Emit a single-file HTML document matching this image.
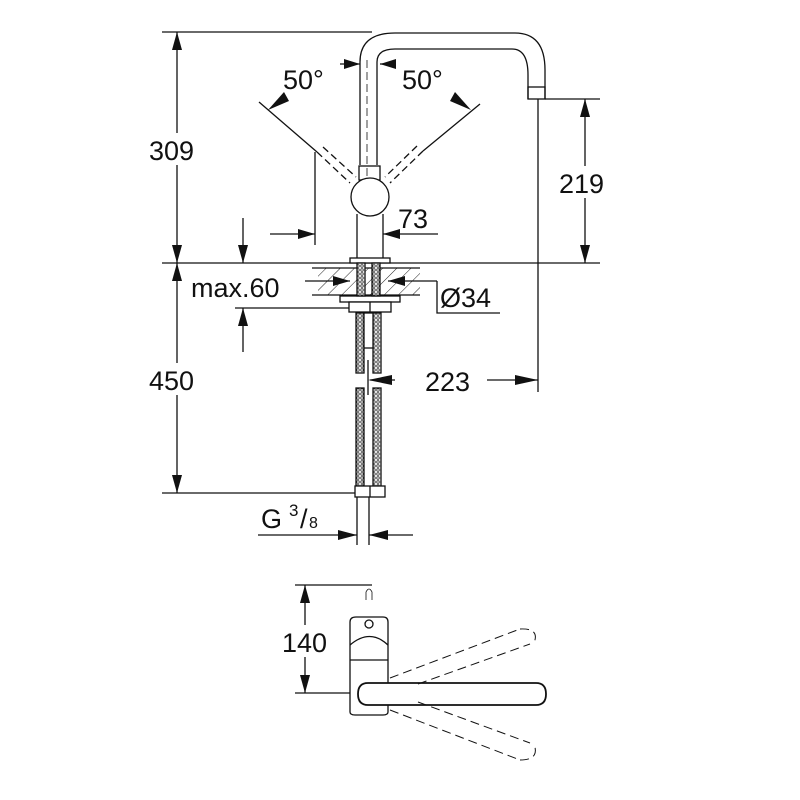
<!DOCTYPE html>
<html><head><meta charset="utf-8"><style>
html,body{margin:0;padding:0;background:#fff;}
svg{display:block;}
text{font-family:"Liberation Sans",sans-serif;fill:#111;}
</style></head><body>
<svg width="800" height="800" viewBox="0 0 800 800" xmlns="http://www.w3.org/2000/svg">
<defs>
<pattern id="hatch" width="10" height="10" patternUnits="userSpaceOnUse" patternTransform="rotate(45)">
<line x1="0" y1="0" x2="0" y2="10" stroke="#222" stroke-width="1"/>
</pattern>
<pattern id="braid" width="4" height="4" patternUnits="userSpaceOnUse">
<rect width="4" height="4" fill="#fff"/><circle cx="2" cy="2" r="1.3" fill="none" stroke="#333" stroke-width="0.8"/>
</pattern>
</defs>
<g stroke="#111" stroke-width="1.3" fill="none">
<line x1="162" y1="32" x2="372" y2="32"/>
<line x1="162" y1="263" x2="600" y2="263"/>
<line x1="545" y1="99" x2="600" y2="99"/>
<line x1="538" y1="99" x2="538" y2="392"/>
<line x1="162" y1="493" x2="355" y2="493"/>
<line x1="235" y1="308" x2="352" y2="308"/>
<line x1="177" y1="32" x2="177" y2="263"/>
<line x1="585" y1="99" x2="585" y2="263"/>
<line x1="177" y1="263" x2="177" y2="493"/>
<path d="M360 165 V62 Q360 33 395 33 H515 Q545 33 545 70 V99"/>
<path d="M377 165 V62 Q377 49 395 49 H512 Q528 49 528 75 V99"/>
<rect x="528" y="87" width="17" height="12"/>
<line x1="367" y1="60" x2="367" y2="178" stroke-dasharray="8,4" stroke-width="0.8"/>
<rect x="359" y="166" width="21" height="14"/>
<circle cx="370" cy="197" r="19" fill="#fff"/>
<line x1="357" y1="214" x2="357" y2="263"/>
<line x1="383" y1="214" x2="383" y2="263"/>
<line x1="259" y1="102" x2="317" y2="152"/>
<line x1="317" y1="152" x2="350" y2="183" stroke-dasharray="7,4"/>
<line x1="323" y1="147" x2="356" y2="177" stroke-dasharray="7,4"/>
<line x1="480" y1="104" x2="423" y2="151"/>
<line x1="423" y1="151" x2="390" y2="183" stroke-dasharray="7,4"/>
<line x1="417" y1="146" x2="385" y2="177" stroke-dasharray="7,4"/>
<line x1="315" y1="152" x2="315" y2="245"/>
<line x1="340" y1="64" x2="360" y2="64"/>
<line x1="380" y1="64" x2="393" y2="64"/>
<line x1="270" y1="234" x2="315" y2="234"/>
<line x1="383" y1="234" x2="438" y2="234"/>
<line x1="243" y1="218" x2="243" y2="263"/>
<line x1="243" y1="308" x2="243" y2="352"/>
<rect x="318" y="268" width="102" height="27" fill="url(#hatch)" stroke="none"/>
<line x1="312" y1="268" x2="420" y2="268"/>
<line x1="312" y1="295" x2="420" y2="295"/>
<rect x="350" y="258" width="40" height="5" fill="#fff"/>
<rect x="340" y="296" width="60" height="6" fill="#fff"/>
<rect x="349" y="302" width="42" height="10" fill="#fff"/>
<line x1="370" y1="302" x2="370" y2="312"/>
<line x1="305" y1="281" x2="350" y2="281"/>
<line x1="388" y1="281" x2="437" y2="281"/>
<polyline points="437,281 437,313 500,313"/>
<rect x="357" y="263" width="8" height="33" fill="url(#braid)"/>
<rect x="372" y="263" width="8" height="33" fill="url(#braid)"/>
<rect x="356" y="313" width="8" height="60" fill="url(#braid)"/>
<rect x="373" y="313" width="8" height="60" fill="url(#braid)"/>
<rect x="364" y="313" width="9" height="35" fill="#fff"/>
<rect x="356" y="388" width="8" height="100" fill="url(#braid)"/>
<rect x="373" y="388" width="8" height="100" fill="url(#braid)"/>
<rect x="355" y="486" width="30" height="11" fill="#fff"/>
<line x1="370" y1="486" x2="370" y2="497"/>
<line x1="368" y1="360" x2="368" y2="395"/>
<line x1="370" y1="380" x2="395" y2="380"/>
<line x1="487" y1="380" x2="538" y2="380"/>
<line x1="357" y1="497" x2="357" y2="545"/>
<line x1="369" y1="497" x2="369" y2="545"/>
<line x1="258" y1="535" x2="357" y2="535"/>
<line x1="369" y1="535" x2="413" y2="535"/>
<line x1="295" y1="585" x2="372" y2="585"/>
<line x1="295" y1="693" x2="350" y2="693"/>
<line x1="305" y1="585" x2="305" y2="693"/>
<path d="M350 712 V622 Q350 617 356 617 H383 Q388 617 388 622 V712 Q388 715 383 715 H355 Q350 715 350 712 Z"/>
<path d="M350 645 Q370 628 388 645"/>
<line x1="350" y1="660" x2="388" y2="660"/>
<circle cx="369" cy="624" r="4"/>
<path d="M366 600 V592 Q369 586 372 592 V600" stroke-width="0.8"/>
<path d="M368 683 H536 Q546 683 546 694 Q546 705 536 705 H368 Q358 705 358 694 Q358 683 368 683 Z" fill="#fff" stroke-width="1.8"/>
<g stroke-dasharray="9,5" stroke-width="1">
<line x1="390" y1="678" x2="520" y2="629"/>
<line x1="418" y1="684" x2="530" y2="644"/>
<path d="M520 629 Q540 628 534 643"/>
<line x1="390" y1="710" x2="520" y2="760"/>
<line x1="418" y1="702" x2="530" y2="743"/>
<path d="M520 760 Q540 760 534 744"/>
</g>
</g>
<g fill="#111" stroke="none">
<polygon points="177,32 172,50 182,50"/>
<polygon points="177,263 172,245 182,245"/>
<polygon points="177,263 172,281 182,281"/>
<polygon points="177,493 172,475 182,475"/>
<polygon points="585,99 580,117 590,117"/>
<polygon points="585,263 580,245 590,245"/>
<polygon points="243,263 238,245 248,245"/>
<polygon points="243,308 238,326 248,326"/>
<polygon points="360,64 344,59 344,69"/>
<polygon points="380,64 396,59 396,69"/>
<polygon points="315,234 298,229 298,239"/>
<polygon points="383,234 400,229 400,239"/>
<polygon points="350,281 333,276 333,286"/>
<polygon points="388,281 405,276 405,286"/>
<polygon points="368,380 392,375 392,385"/>
<polygon points="538,380 515,375 515,385"/>
<polygon points="357,535 338,530 338,540"/>
<polygon points="369,535 388,530 388,540"/>
<polygon points="305,585 300,603 310,603"/>
<polygon points="305,693 300,675 310,675"/>
<polygon points="268,110 284,92 289,101"/>
<polygon points="471,110 455,92 450,101"/>
</g>
<g fill="#fff">
<rect x="148" y="133" width="58" height="32"/>
<rect x="558" y="166" width="58" height="32"/>
<rect x="148" y="363" width="58" height="32"/>
<rect x="282" y="625" width="48" height="32"/>
</g>
<g font-size="27">
<text x="149" y="160">309</text>
<text x="559" y="193">219</text>
<text x="149" y="390">450</text>
<text x="398" y="228">73</text>
<text x="191" y="297">max.60</text>
<text x="440" y="307">Ø34</text>
<text x="425" y="391">223</text>
<text x="282" y="652">140</text>
<text x="283" y="89">50°</text>
<text x="402" y="89">50°</text>
<text x="261" y="528">G</text>
<text x="289" y="516" font-size="17">3</text>
<text x="300" y="528">/</text>
<text x="309" y="528" font-size="16">8</text>
</g>
</svg>
</body></html>
